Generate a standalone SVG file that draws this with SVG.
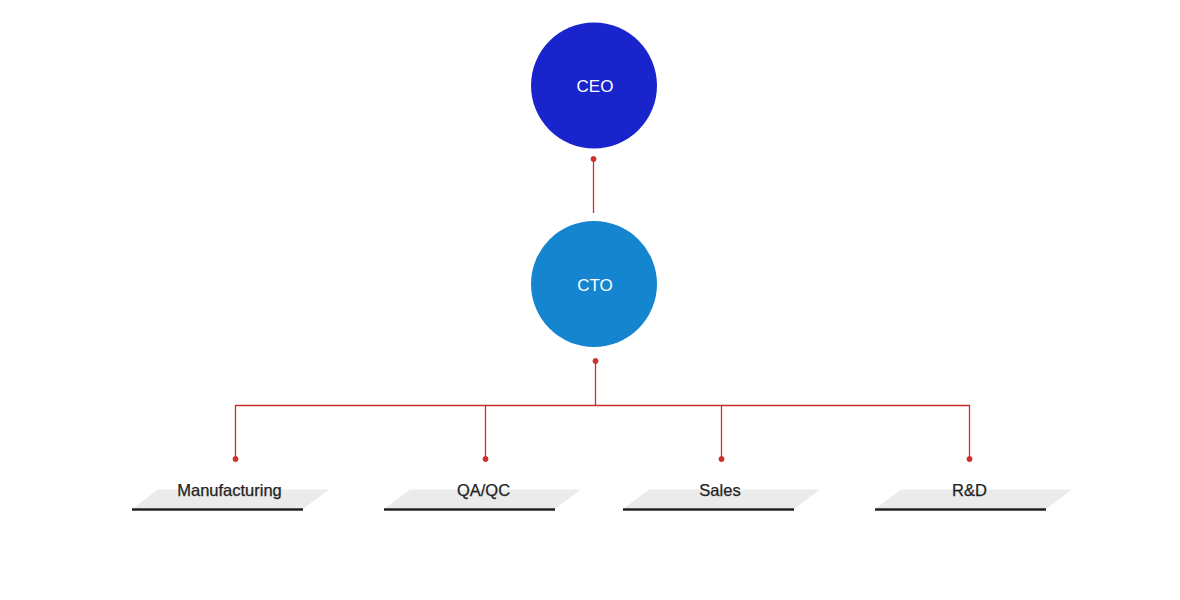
<svg xmlns="http://www.w3.org/2000/svg" width="1180" height="600" viewBox="0 0 1180 600">
<style>
.conn{stroke:#c8302c;stroke-width:1.3;fill:none}
.dot{fill:#d0302a}
.ctext{font-family:"Liberation Sans",Arial,sans-serif;font-size:17px;fill:#ffffff;text-anchor:middle;dominant-baseline:central}
.ltext{font-family:"Liberation Sans",Arial,sans-serif;font-size:16.5px;fill:#222222;text-anchor:middle;stroke:#222222;stroke-width:0.25}
.plate{fill:#ebebeb}
.base{stroke:#222222;stroke-width:2.5}
</style>
<rect width="1180" height="600" fill="#ffffff"/>
<g id="connectors" stroke="#c8302c">
<line class="conn" x1="593.5" y1="159" x2="593.5" y2="213"/>
<circle class="dot" cx="593.5" cy="159" r="2.5"/>
<line class="conn" x1="595.5" y1="361" x2="595.5" y2="405"/>
<circle class="dot" cx="595.5" cy="361" r="2.5"/>
<polyline class="conn" points="235.5,459 235.5,405.5 969.5,405.5 969.5,459"/>
<line class="conn" x1="485.5" y1="405" x2="485.5" y2="459"/>
<line class="conn" x1="721.5" y1="405" x2="721.5" y2="459"/>
<circle class="dot" cx="235.5" cy="459" r="2.5"/>
<circle class="dot" cx="485.5" cy="459" r="2.5"/>
<circle class="dot" cx="721.5" cy="459" r="2.5"/>
<circle class="dot" cx="969.5" cy="459" r="2.5"/>
</g>
<g id="ceo">
<circle cx="594" cy="85.5" r="63" fill="#1a24cc"/>
<text class="ctext" x="595" y="86">CEO</text>
</g>
<g id="cto">
<circle cx="594" cy="284" r="63" fill="#1585d0"/>
<text class="ctext" x="595" y="285">CTO</text>
</g>
<g id="manufacturing">
<polygon class="plate" points="158,489.5 329,489.5 303,509 132,509"/>
<line class="base" x1="132" y1="509.5" x2="303" y2="509.5"/>
<text class="ltext" x="229.5" y="496">Manufacturing</text>
</g>
<g id="qaqc">
<polygon class="plate" points="410,489.5 581,489.5 555,509 384,509"/>
<line class="base" x1="384" y1="509.5" x2="555" y2="509.5"/>
<text class="ltext" x="483.5" y="496">QA/QC</text>
</g>
<g id="sales">
<polygon class="plate" points="649,489.5 820,489.5 794,509 623,509"/>
<line class="base" x1="623" y1="509.5" x2="794" y2="509.5"/>
<text class="ltext" x="720" y="496">Sales</text>
</g>
<g id="rnd">
<polygon class="plate" points="901,489.5 1072,489.5 1046,509 875,509"/>
<line class="base" x1="875" y1="509.5" x2="1046" y2="509.5"/>
<text class="ltext" x="969.5" y="496">R&amp;D</text>
</g>
</svg>
